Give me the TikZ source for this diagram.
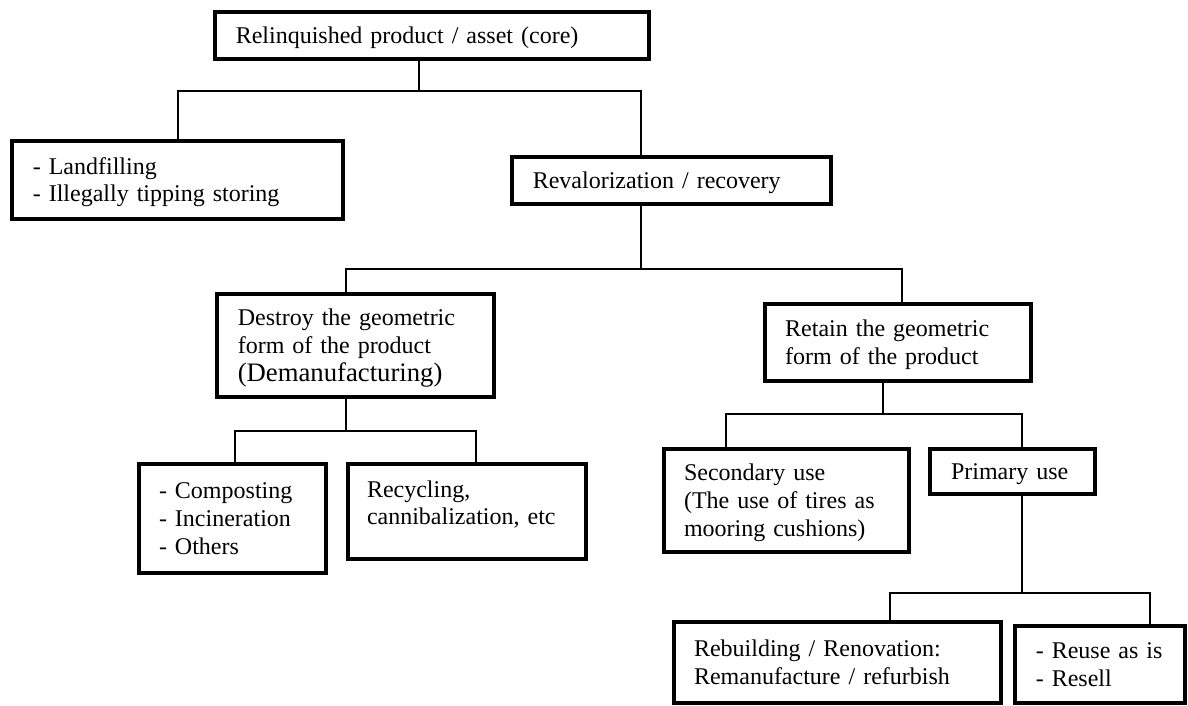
\documentclass[tikz,border=0pt]{standalone}
\usepackage{fontspec}
\setmainfont{Liberation Serif}
% struts that fix the first baseline and the last depth of every box text
\newcommand{\topstrut}{\rule{0pt}{21.8pt}}
\newcommand{\botstrut}{\rule[-5.8pt]{0pt}{5.8pt}}
\newcommand{\bigline}[1]{{\fontsize{26.7pt}{27.6pt}\selectfont #1}}
\tikzset{
  box/.style={draw, rectangle, line width=3.6pt, inner xsep=21pt, inner ysep=0pt,
    align=left, font=\fontsize{24pt}{27.6pt}\selectfont},
  link/.style={line width=1.3pt}
}
\begin{document}
\begin{tikzpicture}[x=1pt, y=-1pt]
\fill[white] (0,0) rectangle (1188,706);
\useasboundingbox (0,0) rectangle (1188,706);

% boxes
\node[box, minimum width=434.4pt, minimum height=47.4pt, text width=392.4pt] (core) at (432,35.5)
  {\topstrut Relinquished product / asset (core)\botstrut};
\node[box, minimum width=331.4pt, minimum height=78.4pt, text width=289.4pt, inner xsep=20.2pt] (land) at (177.5,180)
  {\topstrut - Landfilling\\ - Illegally tipping storing\botstrut};
\node[box, minimum width=319.4pt, minimum height=47.4pt, text width=277.4pt] (reval) at (671.5,180.5)
  {\topstrut Revalorization / recovery\botstrut};
\node[box, minimum width=277.4pt, minimum height=103.4pt, text width=235.4pt] (destroy) at (355.5,345.5)
  {\topstrut Destroy the geometric\\ form of the product\\ \bigline{(Demanufacturing)}\botstrut};
\node[box, minimum width=266.4pt, minimum height=77.4pt, text width=225.6pt, inner xsep=20.4pt] (retain) at (898,342.5)
  {\topstrut Retain the geometric\\ form of the product\botstrut};
\node[box, minimum width=187.4pt, minimum height=109.4pt, text width=147pt, inner xsep=20.2pt] (compost) at (232.5,518.5)
  {\topstrut - Composting\\ - Incineration\\ - Others\botstrut};
\node[box, minimum width=238.4pt, minimum height=95.4pt, text width=200pt, inner xsep=19.2pt] (recyc) at (467,511.5)
  {\topstrut Recycling,\\ cannibalization, etc\rule[-23pt]{0pt}{1pt}};
\node[box, minimum width=245.4pt, minimum height=103.4pt, text width=205pt, inner xsep=20.2pt] (second) at (786.5,500.5)
  {\topstrut Secondary use\\ (The use of tires as\\ mooring cushions)\botstrut};
\node[box, minimum width=165.4pt, minimum height=45.4pt, text width=123pt] (primary) at (1012.5,471.5)
  {\topstrut Primary use\botstrut};
\node[box, minimum width=327.4pt, minimum height=81.4pt, text width=287pt, inner xsep=20.2pt] (rebuild) at (837.5,662.5)
  {\topstrut Rebuilding / Renovation:\\ Remanufacture / refurbish\botstrut};
\node[box, minimum width=170.4pt, minimum height=77.4pt, text width=128.4pt] (reuse) at (1100,664.5)
  {\topstrut - Reuse as is\\ - Resell\botstrut};

% junctions of the branch bars
\coordinate (s1) at (419,91);  \coordinate (l1) at (178,91);  \coordinate (r1) at (641,91);
\coordinate (s2) at (641,269); \coordinate (l2) at (346,269); \coordinate (r2) at (902,269);
\coordinate (s3) at (346,431); \coordinate (l3) at (235,431); \coordinate (r3) at (476,431);
\coordinate (s4) at (883,414); \coordinate (l4) at (726,414); \coordinate (r4) at (1022,414);
\coordinate (s5) at (1022,593); \coordinate (l5) at (890,593); \coordinate (r5) at (1150,593);

% connectors
\draw[link] (core.south -| s1) -- (s1);
\draw[link] (land.north -| l1) -- (l1) -- (r1) -- (reval.north -| r1);
\draw[link] (reval.south -| s2) -- (s2);
\draw[link] (destroy.north -| l2) -- (l2) -- (r2) -- (retain.north -| r2);
\draw[link] (destroy.south -| s3) -- (s3);
\draw[link] (compost.north -| l3) -- (l3) -- (r3) -- (recyc.north -| r3);
\draw[link] (retain.south -| s4) -- (s4);
\draw[link] (second.north -| l4) -- (l4) -- (r4) -- (primary.north -| r4);
\draw[link] (primary.south -| s5) -- (s5);
\draw[link] (rebuild.north -| l5) -- (l5) -- (r5) -- (reuse.north -| r5);
\end{tikzpicture}
\end{document}
